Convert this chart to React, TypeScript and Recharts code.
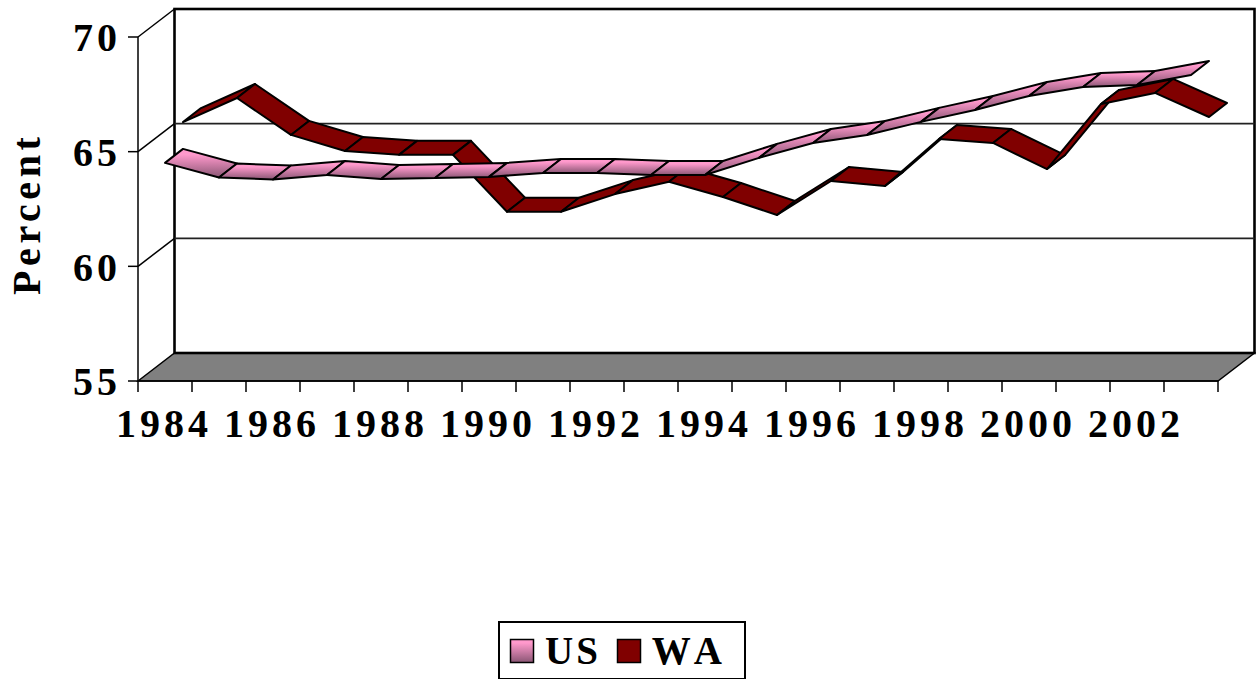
import { ComposedChart, Legend, Line, ReferenceArea, ReferenceLine, XAxis, YAxis } from "recharts";

const years = [1984, 1985, 1986, 1987, 1988, 1989, 1990, 1991, 1992, 1993, 1994, 1995, 1996, 1997, 1998, 1999, 2000, 2001, 2002, 2003];
const usValues = [64.51, 63.87, 63.79, 63.98, 63.81, 63.85, 63.9, 64.07, 64.07, 63.98, 63.98, 64.73, 65.38, 65.73, 66.3, 66.82, 67.43, 67.82, 67.91, 68.34];
const waValues = [65.68, 66.73, 65.12, 64.42, 64.25, 64.25, 61.77, 61.77, 62.54, 63.08, 62.41, 61.63, 63.11, 62.89, 64.94, 64.77, 63.63, 66.47, 66.95, 65.9];
const yTicks = [55, 60, 65, 70];
const seriesFill: Record<string, string> = { US: "url(#usFill)", WA: "#800000" };

const data = years.map((year, i) => ({ year, US: usValues[i], WA: waValues[i] }));

const FONT = "'Liberation Serif', serif";
const DEPTH_X = 36.5;
const DEPTH_Y = 28;

// one series is a strip of parallelograms, half the chart depth wide
function ribbon(shiftX: number, shiftY: number, fill: string) {
  return (props: any) => {
    const { points, index } = props;
    const a = points[index];
    const b = points[index + 1];
    if (!b) return <g key={index} />;
    const ax = a.x + shiftX;
    const ay = a.y - shiftY;
    const bx = b.x + shiftX;
    const by = b.y - shiftY;
    const d = `${ax},${ay} ${ax + 18},${ay - 14} ${bx + 18},${by - 14} ${bx},${by}`;
    return <polygon key={index} points={d} fill={fill} stroke="#000" strokeWidth={2} strokeLinejoin="round" />;
  };
}

function Walls({ x, y, width, height }: any) {
  const bottom = y + height;
  const floor = `${x},${bottom} ${x + DEPTH_X},${bottom - DEPTH_Y} ${x + width + DEPTH_X},${bottom - DEPTH_Y} ${x + width},${bottom}`;
  return (
    <g>
      <polygon points={floor} fill="#808080" stroke="#000" strokeWidth={1.5} />
      <rect x={x + DEPTH_X} y={y - DEPTH_Y} width={width} height={height} fill="none" stroke="#000" strokeWidth={2.6} />
      <line x1={x} y1={y} x2={x + DEPTH_X} y2={y - DEPTH_Y} stroke="#000" strokeWidth={1.5} />
    </g>
  );
}

function WallGridLine({ x1, y1, x2, y2 }: any) {
  return (
    <g>
      <line x1={x1} y1={y1} x2={x1 + DEPTH_X} y2={y1 - DEPTH_Y} stroke="#000" strokeWidth={1.5} />
      <line x1={x1 + DEPTH_X} y1={y2 - DEPTH_Y} x2={x2 + DEPTH_X} y2={y2 - DEPTH_Y} stroke="#222" strokeWidth={1.6} />
    </g>
  );
}

function YearTick({ x, y, payload, index }: any) {
  const last = index === years.length - 1;
  const top = y - 8; // tick y comes in below the axis line
  return (
    <g>
      <line x1={x - 27} y1={top} x2={x - 27} y2={top + 11} stroke="#000" strokeWidth={1.5} />
      {last && <line x1={x + 27} y1={top} x2={x + 27} y2={top + 11} stroke="#000" strokeWidth={1.5} />}
      {index % 2 === 0 && (
        <text x={x - 1} y={top + 56} textAnchor="middle" fontFamily={FONT} fontWeight="bold" fontSize={40} letterSpacing={4} fill="#000">
          {payload.value}
        </text>
      )}
    </g>
  );
}

function LegendBox({ payload }: any) {
  return (
    <div style={{ boxSizing: "border-box", width: 248, height: 59, border: "2px solid #000", background: "#fff", display: "flex", alignItems: "center", paddingLeft: 9, fontFamily: FONT, fontWeight: "bold", fontSize: 39, letterSpacing: 3, lineHeight: 1, fontKerning: "none" }}>
      {(payload || []).map((entry: any) => (
        <span key={entry.value} style={{ display: "flex", alignItems: "center", marginRight: 15 }}>
          <svg width={26} height={26} style={{ marginRight: 10 }}>
            <defs>
              <linearGradient id="usSwatch" x1="0" y1="0" x2="0" y2="1">
                <stop offset="0.15" stopColor="#ff99cc" />
                <stop offset="1" stopColor="#8a5674" />
              </linearGradient>
            </defs>
            <rect x={1.5} y={1.5} width={23} height={23} fill={entry.value === "US" ? "url(#usSwatch)" : seriesFill.WA} stroke="#000" strokeWidth={1.5} />
          </svg>
          {entry.value}
        </span>
      ))}
    </div>
  );
}

export default function App() {
  return (
    <div style={{ position: "absolute", left: 0, top: 0, width: 1256, height: 679, overflow: "hidden" }}>
      <ComposedChart width={1256} height={679} data={data} margin={{ top: 37, right: 38, bottom: 179, left: 8 }}>
        <defs>
          <linearGradient id="usFill" x1="0" y1="0" x2="0" y2="1">
            <stop offset="0.2" stopColor="#ff99cc" />
            <stop offset="1" stopColor="#8a5674" />
          </linearGradient>
        </defs>
        <XAxis
          dataKey="year"
          scale="band"
          height={60}
          interval={0}
          tickLine={false}
          tick={<YearTick />}
          axisLine={{ stroke: "#000", strokeWidth: 1.5 }}
        />
        <YAxis
          width={130}
          domain={[55, 70]}
          ticks={yTicks}
          tickSize={10}
          tickMargin={7}
          axisLine={{ stroke: "#000", strokeWidth: 1.5 }}
          tickLine={{ stroke: "#000", strokeWidth: 1.5 }}
          tick={{ fontFamily: FONT, fontWeight: "bold", fontSize: 40, letterSpacing: 4, fill: "#000" }}
          label={{ value: "Percent", angle: -90, position: "insideLeft", dx: 13, dy: 86, fontFamily: FONT, fontWeight: "bold", fontSize: 40, letterSpacing: 4.6, fill: "#000" }}
        />
        <ReferenceArea y1={55} y2={70} shape={<Walls />} ifOverflow="visible" />
        <ReferenceLine y={60} shape={<WallGridLine />} ifOverflow="visible" />
        <ReferenceLine y={65} shape={<WallGridLine />} ifOverflow="visible" />
        <Line dataKey="WA" stroke="none" dot={ribbon(18, 14, seriesFill.WA)} activeDot={false} isAnimationActive={false} legendType="square" />
        <Line dataKey="US" stroke="none" dot={ribbon(0, 0, seriesFill.US)} activeDot={false} isAnimationActive={false} legendType="square" />
        <Legend
          layout="horizontal"
          verticalAlign="bottom"
          itemSorter={(item: any) => (item.value === "US" ? 0 : 1)}
          content={<LegendBox />}
          wrapperStyle={{ left: 498, top: 621, bottom: "auto", width: 248, height: 59 }}
        />
      </ComposedChart>
    </div>
  );
}
